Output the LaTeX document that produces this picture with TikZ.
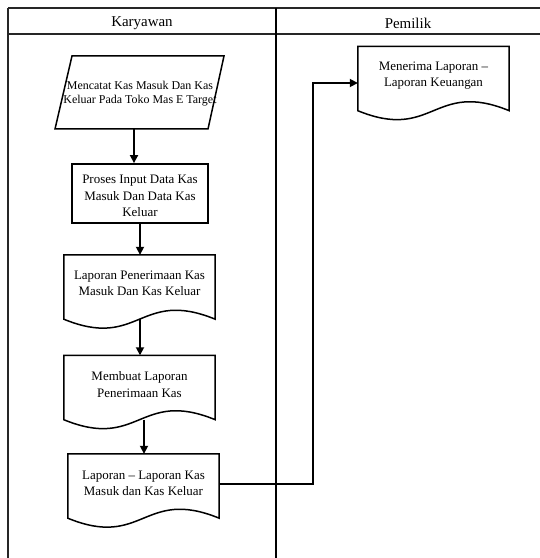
\documentclass[tikz,border=0pt]{standalone}
\usepackage{fontspec}
\setmainfont{Liberation Serif}
\usetikzlibrary{arrows.meta,calc}
\begin{document}
\begin{tikzpicture}[x=1bp,y=-1bp, line join=miter,
  frame/.style={line width=1.1bp, draw=black!85},
  shp/.style={line width=1.5bp, draw=black},
  conn/.style={line width=1.7bp, draw=black, -{Triangle[length=8bp,width=8bp]}},
  body/.style={font=\fontsize{13}{16.5}\selectfont, align=center, inner sep=0pt},
  docbox/.style={inner sep=0pt, minimum width=151bp, minimum height=64bp},
  head/.style={font=\fontsize{15}{18}\selectfont, inner sep=0pt}]
\useasboundingbox (0,0) rectangle (540,558);
\fill[white] (0,0) rectangle (540,558);
% swimlane frame
\draw[frame] (8,8) -- (540,8);
\draw[frame] (8,34) -- (540,34);
\draw[frame] (8,8) -- (8,558);
\draw[line width=1.6bp] (276,8) -- (276,558);
\node[head] (h1) at (142,23) {Karyawan};
\node[head] (h2) at (408,23) {Pemilik};
% parallelogram (input)
\draw[shp] (72,56) -- (224,56) -- (208,129) -- (55,129) -- cycle;
\node[body, font=\fontsize{12}{14}\selectfont] (par) at (140,94) {Mencatat Kas Masuk Dan Kas\\Keluar Pada Toko Mas E Target};
\coordinate (parB) at (134,129);
% process
\node[shp, line width=1.8bp, rectangle, minimum width=136bp, minimum height=59bp, inner sep=0pt] (proc) at (140,193.5) {};
\node[body] (proct) at (140,196) {Proses Input Data Kas\\Masuk Dan Data Kas\\Keluar};
% documents
\node[docbox] (d1) at (139.5,287) {};
\node[docbox] (d2) at (139.5,387.5) {};
\node[docbox] (d3) at (143.5,486) {};
\node[docbox] (d4) at (433.5,78.5) {};
\foreach \d in {d1,d2,d3,d4}{
  \draw[shp] (\d.south west) -- (\d.north west) -- (\d.north east) -- (\d.south east)
    .. controls ($(\d.south)+(0,-31)$) and ($(\d.south)+(0,31)$) .. (\d.south west) -- cycle;
}
\node[body] (d1t) at (139.5,283) {Laporan Penerimaan Kas\\Masuk Dan Kas Keluar};
\node[body] (d2t) at (139.5,384.5) {Membuat Laporan\\Penerimaan Kas};
\node[body] (d3t) at (143.5,483.5) {Laporan -- Laporan Kas\\Masuk dan Kas Keluar};
\node[body] (d4t) at (433.5,75.5) {Menerima Laporan --\\Laporan Keuangan};
% connectors
\draw[conn] (parB) -- (parB |- proc.north);
\draw[conn] (proc.south) -- (proc.south |- d1.north);
\coordinate (d1B) at (140,319);
\draw[conn] (d1B) -- (d1B |- d2.north);
\coordinate (d2B) at (144,419.5);
\draw[conn] (d2B) -- (d2B |- d3.north);
\coordinate (d3R) at ($(d3.east)+(0,-2)$);
\coordinate (bend1) at (313,484);
\coordinate (bend2) at (313,83);
\draw[conn] (d3R) -- (bend1) -- (bend2) -- (bend2 -| d4.west);
\end{tikzpicture}
\end{document}
